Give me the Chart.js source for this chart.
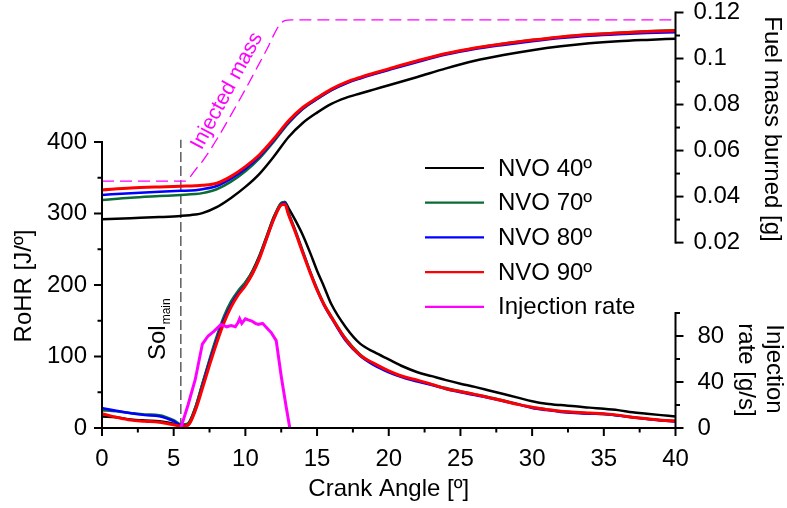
<!DOCTYPE html>
<html>
<head>
<meta charset="utf-8">
<script src="https://cdn.jsdelivr.net/npm/chart.js@4.4.1/dist/chart.umd.min.js"></script>
<style>
  html, body { margin: 0; padding: 0; background: #fff; }
  canvas { display: block; }
</style>
</head>
<body>
<canvas id="chartRohr" width="787" height="508"></canvas>
<script>
// Crank angle grid for the heat release curves [deg]
const crankAngle = [0, 1, 2, 3, 4, 5, 5.5, 6, 6.5, 7, 7.5, 8, 8.5, 9, 9.5, 10, 10.5, 11, 11.5, 12, 12.5, 12.75,
  13, 13.5, 14, 14.5, 15, 15.5, 16, 17, 18, 19, 20, 21, 22, 23, 24, 25, 26, 27, 28, 29, 30, 31, 32, 33, 34, 35, 36, 37, 38, 39, 40];

// Rate of heat release [J/º]
const rohrNvo40 = [16, 15, 12, 10.5, 9.5, 6, 3, 6, 28, 61, 94, 125, 153, 174, 190, 203, 220, 242, 269, 296, 314, 316,
  308, 290, 270, 246, 220, 197, 173, 141, 118, 106, 96, 86, 78, 72.5, 67, 62, 57.5, 52.5, 47.5, 42.5, 37.5, 34, 32, 30.5, 28.5, 27, 25, 22, 20, 18, 16];
const rohrNvo70 = [25, 23.5, 21, 19, 18, 11, 5, 6, 28, 62, 96, 128, 156, 177, 192, 204, 219, 241, 268, 295, 315, 316,
  302, 276, 248, 220, 195, 173, 156, 125, 103, 89, 79, 71.5, 66, 61, 56, 51.5, 47, 43, 38.5, 33.5, 29, 26, 23.5, 22, 20.5, 19.5, 17.5, 15, 13, 11, 10];
const rohrNvo80 = [28, 24, 20.5, 18, 16.5, 9.5, 4, 4, 25, 58, 92, 123, 151, 172, 188, 200, 216, 239, 266, 293, 313, 315,
  300, 274, 246, 219, 193, 171, 154, 122, 101, 87.5, 78, 70.5, 65, 60, 54.5, 50, 46, 42, 37.5, 33, 28, 25, 22.5, 21, 20, 19.5, 17.5, 15, 12.5, 10.5, 9];
const rohrNvo90 = [20, 15, 11, 9.5, 8, 4.5, 2.5, 4, 24, 55, 88, 119, 147, 169, 186, 199, 216, 238, 266, 293, 312, 313,
  299, 273, 245, 218, 193, 172, 155, 124, 102, 90, 80, 72, 67, 61, 55, 51, 47, 42.5, 38, 33, 29, 26, 23.5, 22, 21, 20, 18, 15, 13, 11, 9.8];

// Fuel mass burned [g]
const burnAngle = [0, 2, 4, 5.5, 6.5, 7, 8, 9, 10, 11, 12, 13, 14, 15, 16, 17, 18, 19, 20, 22, 24, 26, 28, 30, 32, 34, 36, 38, 40];
const burnedNvo40 = [0.0301, 0.0306, 0.0311, 0.0316, 0.0322, 0.0328, 0.0354, 0.0394, 0.0442, 0.05, 0.0575, 0.0658, 0.072, 0.0765,
  0.0803, 0.0829, 0.0848, 0.0866, 0.0884, 0.092, 0.0957, 0.099, 0.1015, 0.1036, 0.1053, 0.1066, 0.1075, 0.1081, 0.1086];
const burnedNvo70 = [0.0385, 0.0395, 0.0402, 0.0407, 0.0411, 0.0415, 0.0432, 0.0465, 0.051, 0.0567, 0.064, 0.0718, 0.078, 0.0824,
  0.0863, 0.0893, 0.0916, 0.0935, 0.0953, 0.0989, 0.1021, 0.1045, 0.1064, 0.108, 0.1094, 0.1104, 0.1112, 0.1118, 0.1123];
const burnedNvo80 = [0.0407, 0.0415, 0.0421, 0.0425, 0.0428, 0.0432, 0.0446, 0.0478, 0.0521, 0.0576, 0.0646, 0.0722, 0.0782, 0.0824,
  0.0862, 0.0891, 0.0913, 0.0932, 0.095, 0.0985, 0.1017, 0.1041, 0.1059, 0.1075, 0.1089, 0.1099, 0.1106, 0.1111, 0.1114];
const burnedNvo90 = [0.0429, 0.0437, 0.0442, 0.0445, 0.0447, 0.0449, 0.0458, 0.0488, 0.053, 0.0583, 0.0652, 0.0728, 0.0787, 0.0829,
  0.0867, 0.0896, 0.0918, 0.0937, 0.0955, 0.099, 0.1022, 0.1046, 0.1064, 0.108, 0.1094, 0.1104, 0.1111, 0.1117, 0.1121];

// Cumulative injected mass [g]
const injMassAngle = [0, 5.8, 6.1, 6.5, 7, 8, 9, 10, 11, 11.5, 12, 12.4, 12.8, 13.2, 40];
const injMass = [0.0467, 0.0467, 0.0482, 0.0515, 0.0553, 0.0648, 0.0755, 0.0866, 0.0982, 0.104, 0.1105, 0.1148, 0.1166, 0.1168, 0.1168];

// Injection rate [g/s]
const injAngle = [5.5, 6.0, 6.5, 7.0, 7.4, 7.8, 8.3, 8.5, 8.7, 9.0, 9.3, 9.5, 9.6, 9.75, 10.0, 10.2, 10.45, 10.7, 10.9, 11.2, 11.5, 11.8, 12.15, 12.5, 12.85, 13.1];
const injRate = [0, 20, 42, 73, 80, 84, 90, 89, 88, 89, 88, 92, 95, 91, 95, 94, 93, 91, 90, 91, 87, 83, 76, 45, 18, 0];

// Start of main injection
const solAngle = [5.5, 5.5];
const solRohr = [0, 403];

const seriesLabels = ['NVO 40º', 'NVO 70º', 'NVO 80º', 'NVO 90º'];
const seriesColors = ['#000000', '#0a6b34', '#0000ff', '#ff0000'];
const injColor = '#ff00ff';

// Tick values
const xTicks = [0, 5, 10, 15, 20, 25, 30, 35, 40];
const rohrTicks = [0, 100, 200, 300, 400];
const fuelTicks = [0.02, 0.04, 0.06, 0.08, 0.1, 0.12];
const injTicks = [0, 40, 80];

const FONT = "'Liberation Sans', Arial, sans-serif";
const PLOT_H = 416; // plot area height in px (top 12, bottom 428)

// min/max so that lo and hi land at the given fractions of the plot height
function scaleRange(lo, hi, loFrac, hiFrac) {
  const unit = (hi - lo) / (hiFrac - loFrac);
  return { min: lo - loFrac * unit, max: lo + (1 - loFrac) * unit };
}
const rohrRange = scaleRange(0, 400, 0, 286 / PLOT_H);
const fuelRange = scaleRange(0.02, 0.12, 185.4 / PLOT_H, 415.5 / PLOT_H);
const injRange = scaleRange(0, 80, 0, 92 / PLOT_H);

const pts = (xs, ys) => xs.map((x, i) => ({ x: x, y: ys[i] }));

const rohrSets = [rohrNvo40, rohrNvo70, rohrNvo80, rohrNvo90];
const burnSets = [burnedNvo40, burnedNvo70, burnedNvo80, burnedNvo90];
const datasets = [];
seriesLabels.forEach(function (label, i) {
  const common = {
    borderColor: seriesColors[i],
    borderWidth: i === 3 ? 3 : 2.5,
    pointRadius: 0,
    fill: false,
    cubicInterpolationMode: 'monotone',
    order: 4 - i
  };
  datasets.push(Object.assign({ label: label, data: pts(crankAngle, rohrSets[i]), yAxisID: 'yRohr', inLegend: true }, common));
  datasets.push(Object.assign({ label: label + ' burned', data: pts(burnAngle, burnSets[i]), yAxisID: 'yFuel' }, common));
});
datasets.push({
  label: 'Injection rate', data: pts(injAngle, injRate), yAxisID: 'yInj', inLegend: true,
  borderColor: injColor, borderWidth: 3, pointRadius: 0, tension: 0, order: 0
});
datasets.push({
  label: 'Injected mass', data: pts(injMassAngle, injMass), yAxisID: 'yFuel',
  borderColor: injColor, borderWidth: 1.3, borderDash: [12, 6], pointRadius: 0,
  cubicInterpolationMode: 'monotone', order: 6
});
datasets.push({
  label: 'Sol main', data: pts(solAngle, solRohr), yAxisID: 'yRohr',
  borderColor: '#333333', borderWidth: 1.2, borderDash: [10, 4], pointRadius: 0, tension: 0, order: 7
});

const tickFont = { family: FONT, size: 24, lineHeight: 1 };

function rotatedText(ctx, text, x, y, angle, size, color) {
  ctx.save();
  ctx.translate(x, y);
  ctx.rotate(angle);
  ctx.font = size + 'px ' + FONT;
  ctx.fillStyle = color;
  ctx.textAlign = 'center';
  ctx.textBaseline = 'middle';
  ctx.fillText(text, 0, 0);
  ctx.restore();
}

// axis line limited to [lo, hi] with major/minor tick marks pointing outwards
function drawAxis(ctx, scale, fixed, lo, hi, minorStep, majors, dir, vertical) {
  const p0 = scale.getPixelForValue(lo), p1 = scale.getPixelForValue(hi);
  ctx.lineCap = 'square';
  ctx.beginPath();
  if (vertical) { ctx.moveTo(fixed, p0); ctx.lineTo(fixed, p1); }
  else { ctx.moveTo(p0, fixed); ctx.lineTo(p1, fixed); }
  ctx.stroke();
  ctx.lineCap = 'butt';
  const n = Math.round((hi - lo) / minorStep);
  for (let i = 0; i <= n; i++) {
    const v = lo + i * minorStep;
    const isMajor = majors.some(m => Math.abs(m - v) < minorStep / 10);
    const len = isMajor ? 8 : 4.5;
    const p = scale.getPixelForValue(v);
    ctx.beginPath();
    if (vertical) { ctx.moveTo(fixed, p); ctx.lineTo(fixed + dir * len, p); }
    else { ctx.moveTo(p, fixed); ctx.lineTo(p, fixed + dir * len); }
    ctx.stroke();
  }
}

const decorations = {
  id: 'decorations',
  // both right-hand scales start at the plot edge; widen their boxes so the labels are not clipped
  beforeDraw(chart) {
    ['yFuel', 'yInj'].forEach(function (id) {
      const s = chart.scales[id];
      s.right = chart.width;
      s.width = s.right - s.left;
    });
  },
  afterDraw(chart) {
    const { ctx, chartArea: area, scales } = chart;
    ctx.save();
    ctx.strokeStyle = '#000';
    ctx.lineWidth = 2;
    drawAxis(ctx, scales.x, area.bottom, 0, 40, 2.5, xTicks, 1, false);
    drawAxis(ctx, scales.yRohr, area.left, 0, 400, 50, rohrTicks, -1, true);
    drawAxis(ctx, scales.yFuel, area.right, 0.02, 0.12, 0.01, fuelTicks, 1, true);
    drawAxis(ctx, scales.yInj, area.right, 0, 100, 20, injTicks, 1, true);

    // axis titles
    rotatedText(ctx, 'RoHR [J/º]', 24, 286, -Math.PI / 2, 24, '#000');
    rotatedText(ctx, 'Fuel mass burned [g]', 772, 129, Math.PI / 2, 24, '#000');
    rotatedText(ctx, 'Injection', 774, 369, Math.PI / 2, 24, '#000');
    rotatedText(ctx, 'rate [g/s]', 746, 370, Math.PI / 2, 24, '#000');

    // annotations
    rotatedText(ctx, 'Injected mass', 227, 91, -61.8 * Math.PI / 180, 21, injColor);
    ctx.save();
    ctx.translate(165, 360);
    ctx.rotate(-Math.PI / 2);
    ctx.fillStyle = '#000';
    ctx.textAlign = 'left';
    ctx.textBaseline = 'alphabetic';
    ctx.font = '24px ' + FONT;
    ctx.fillText('Sol', 0, 0);
    const w = ctx.measureText('Sol').width;
    ctx.font = '12px ' + FONT;
    ctx.fillText('main', w + 1, 5);
    ctx.restore();

    // legend
    const items = chart.data.datasets.filter(d => d.inLegend);
    ctx.font = '24px ' + FONT;
    ctx.textAlign = 'left';
    ctx.textBaseline = 'middle';
    items.forEach(function (d, i) {
      const y = 168 + i * 34.7;
      ctx.strokeStyle = d.borderColor;
      ctx.lineWidth = 2.2;
      ctx.beginPath();
      ctx.moveTo(425, y);
      ctx.lineTo(484, y);
      ctx.stroke();
      ctx.fillStyle = '#000';
      ctx.fillText(d.label, 498, y + 1);
    });
    ctx.restore();
  }
};

const hiddenGrid = { display: false, drawTicks: false };

new Chart(document.getElementById('chartRohr'), {
  type: 'line',
  data: { datasets: datasets },
  options: {
    responsive: false,
    animation: false,
    events: [],
    // the right-hand scales take no width in the layout; their labels sit in this padding
    layout: { padding: { top: 12, left: 0, right: 111.5, bottom: 0 } },
    plugins: { legend: { display: false }, tooltip: { enabled: false } },
    scales: {
      x: {
        type: 'linear', position: 'bottom', min: 0, max: 40,
        grid: hiddenGrid, border: { display: false },
        ticks: { padding: 17, font: { family: FONT, size: 24 }, color: '#000', maxRotation: 0, autoSkip: false },
        afterBuildTicks(s) { s.ticks = xTicks.map(v => ({ value: v })); },
        title: { display: true, text: 'Crank Angle [º]', font: { family: FONT, size: 24 }, color: '#000', padding: { top: 0, bottom: 4 } },
        afterFit(s) { s.height = 80; s.paddingLeft = 0; s.paddingRight = 0; }
      },
      yRohr: {
        type: 'linear', position: 'left', min: rohrRange.min, max: rohrRange.max,
        grid: hiddenGrid, border: { display: false },
        ticks: { padding: 15, font: tickFont, color: '#000', autoSkip: false },
        afterBuildTicks(s) { s.ticks = rohrTicks.map(v => ({ value: v })); },
        afterFit(s) { s.width = 102; s.paddingTop = 0; s.paddingBottom = 0; }
      },
      yInj: {
        type: 'linear', position: 'right', min: injRange.min, max: injRange.max,
        grid: hiddenGrid, border: { display: false },
        ticks: { padding: 22, font: tickFont, color: '#000', autoSkip: false },
        afterBuildTicks(s) { s.ticks = injTicks.map(v => ({ value: v })); },
        afterFit(s) { s.width = 0; s.paddingTop = 0; s.paddingBottom = 0; }
      },
      yFuel: {
        type: 'linear', position: 'right', min: fuelRange.min, max: fuelRange.max,
        grid: hiddenGrid, border: { display: false },
        ticks: {
          padding: 18, font: tickFont, color: '#000', autoSkip: false,
          callback: v => String(+v.toFixed(2))
        },
        afterBuildTicks(s) { s.ticks = fuelTicks.map(v => ({ value: v })); },
        afterFit(s) { s.width = 0; s.paddingTop = 0; s.paddingBottom = 0; }
      }
    }
  },
  plugins: [decorations]
});
</script>
</body>
</html>
